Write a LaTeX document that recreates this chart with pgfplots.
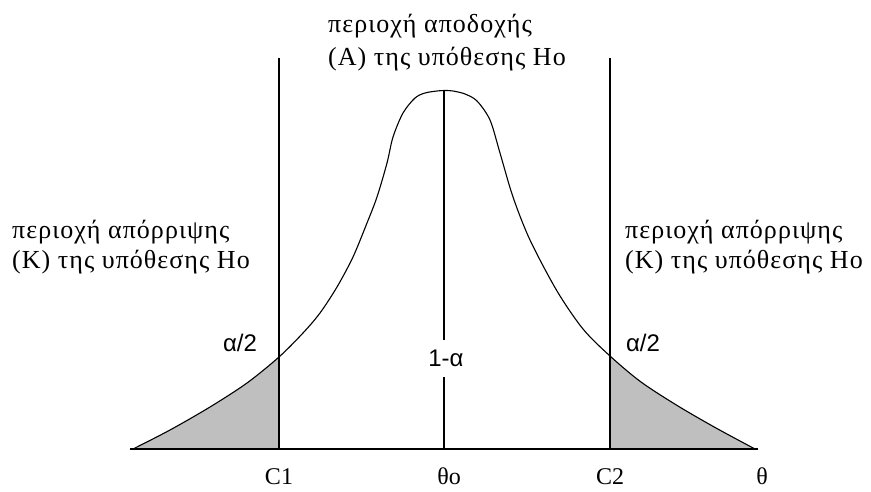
\documentclass[border=0pt]{standalone}
\usepackage{fontspec}
\setmainfont{Liberation Serif}
\newfontfamily\grk[LetterSpace=4]{Liberation Serif}
\newfontfamily\sansf{Liberation Sans}
\usepackage{pgfplots}
\pgfplotsset{compat=1.18}
\usepgfplotslibrary{fillbetween}
\begin{document}
\begin{tikzpicture}
\begin{axis}[
  x=1pt, y=1pt, xmin=0, xmax=871, ymin=0, ymax=491,
  hide axis, clip=false, scale only axis,
]
\path (rel axis cs:0,0) rectangle (rel axis cs:1,1);
% base line
\addplot[name path=base, draw=black, line width=1.3pt] coordinates {(130,42) (758,42)};
% density curve
\addplot[name path=curve, draw=black, line width=1.1pt, smooth, tension=0.5] coordinates {
(133,42) (170,61) (210,84) (247,108) (279,134) (303,158) (320,178) (337,204)
(353,234) (367,268) (377,294) (387,328) (393,354) (403,378) (415,393) (425,398)
(437,400) (445,400.5) (453,400) (465,397) (477,390) (490,371) (500,338) (513,294)
(530,251) (557,200) (583,162) (610,135) (641,109) (678,85) (716,63) (755,42)};
\addplot[fill=black!25, draw=none] fill between[of=curve and base, soft clip={domain=133:279}];
\addplot[fill=black!25, draw=none] fill between[of=curve and base, soft clip={domain=610:755}];
% vertical lines
\addplot[draw=black, line width=1.3pt] coordinates {(279,42) (279,433)};
\addplot[draw=black, line width=1.3pt] coordinates {(610,42) (610,433)};
\addplot[draw=black, line width=1.3pt] coordinates {(444,42) (444,114)};
\addplot[draw=black, line width=1.3pt] coordinates {(444,151) (444,400)};
% texts
\node[anchor=base west, inner sep=0pt, font=\grk\fontsize{26}{29}\selectfont] at (axis cs:328,458) {περιοχή αποδοχής};
\node[anchor=base west, inner sep=0pt, font=\grk\fontsize{26}{29}\selectfont] at (axis cs:328,425) {(Α) της υπόθεσης Ηο};
\node[anchor=base west, inner sep=0pt, font=\grk\fontsize{26}{29}\selectfont] at (axis cs:12,252) {περιοχή απόρριψης};
\node[anchor=base west, inner sep=0pt, font=\grk\fontsize{26}{29}\selectfont] at (axis cs:12,223) {(Κ) της υπόθεσης Ηο};
\node[anchor=base west, inner sep=0pt, font=\grk\fontsize{26}{29}\selectfont] at (axis cs:625,252) {περιοχή απόρριψης};
\node[anchor=base west, inner sep=0pt, font=\grk\fontsize{26}{29}\selectfont] at (axis cs:625,223) {(Κ) της υπόθεσης Ηο};
\node[inner sep=0pt, font=\sansf\fontsize{24}{28}\selectfont] at (axis cs:240,148) {α/2};
\node[inner sep=0pt, font=\sansf\fontsize{24}{28}\selectfont] at (axis cs:643,148) {α/2};
\node[inner sep=0pt, fill=white, font=\sansf\fontsize{24}{28}\selectfont] at (axis cs:446,133) {1-α};
\node[anchor=base, inner sep=0pt, font=\fontsize{24}{28}\selectfont] at (axis cs:279,7) {C1};
\node[anchor=base, inner sep=0pt, font=\fontsize{24}{28}\selectfont] at (axis cs:449,7) {θο};
\node[anchor=base, inner sep=0pt, font=\fontsize{24}{28}\selectfont] at (axis cs:610,7) {C2};
\node[anchor=base, inner sep=0pt, font=\fontsize{24}{28}\selectfont] at (axis cs:762,7) {θ};
\end{axis}
\end{tikzpicture}
\end{document}
